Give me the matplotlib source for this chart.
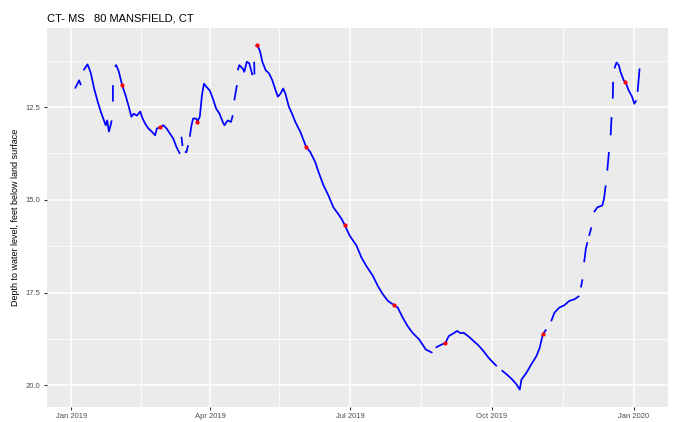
import numpy as np
import pandas as pd
import matplotlib
matplotlib.use('Agg')
import matplotlib.pyplot as plt
import matplotlib.dates as mdates

plt.rcParams['font.family'] = ['Liberation Sans', 'DejaVu Sans']

title = 'CT- MS   80 MANSFIELD, CT'
ylab = 'Depth to water level, feet below land surface'

# days since 2019-01-01 and depth (ft); nan = gap in the record
days = [2.4, 5.1, 6.2, np.nan,
        7.9, 10.5, 11.6, 12.7, 14.8, 16.9, 19.1, 21.2, 22.3, 23.3, 24.4, 25.5, 26.2, np.nan,
        27.0, 27.0, np.nan,
        28.3, 29.1, 30.8, 33.0, 35.2, 37.3, 39.0, 40.5, 42.6, 44.8, 45.8, 46.9, 48.0, 50.1,
        52.2, 54.4, 55.5, 57.6, 59.8, 61.9, 64.1, 66.2, 68.3, 70.5, np.nan,
        71.5, 72.2, np.nan,
        73.7, 74.7, 75.8, np.nan,
        76.9, 78.0, 79.0, 79.7, 81.2, 81.8, 83.4, 84.8, 86.1, 87.6, 89.8, 91.9, 94.0, 96.2,
        98.3, 99.4, 101.5, 103.7, 104.8, np.nan,
        105.8, 107.5, np.nan,
        108.0, 109.1, 111.2, 112.3, 113.9, 115.5, 117.6, np.nan,
        118.7, 118.9, np.nan,
        119.7, 120.8, 122.6, 124.0, 126.2, 128.3, 130.5, 132.6, 134.1, 135.8, 137.5, 139.0,
        141.2, 143.3, 145.4, 148.7, 152.5, 155.1, 158.3, 160.5, 163.7, 166.9, 170.1, 173.3,
        175.4, 177.4, 180.8, 185.1, 188.3, 191.5, 195.8, 199.0, 202.2, 205.5, 209.3, 211.9,
        215.1, 218.3, 221.5, 225.8, 230.1, 234.4, np.nan,
        236.5, 239.7, 242.9, 245.0, 248.3, 250.4, 252.6, 254.7, 257.9, 261.1, 264.3, 267.5,
        270.8, 274.0, 276.2, np.nan,
        279.4, 282.6, 285.8, 289.0, 291.1, 292.2, 295.4, 298.6, 301.9, 304.0, 306.1, 308.3, np.nan,
        311.5, 313.6, 316.8, 320.0, 323.3, 326.5, 329.7, np.nan,
        330.8, 331.8, np.nan,
        332.9, 334.0, 335.0, np.nan,
        336.1, 337.6, np.nan,
        339.3, 341.5, 344.7, 345.8, 346.9, np.nan,
        347.9, 349.0, np.nan,
        350.1, 350.7, np.nan,
        351.5, 351.7, np.nan,
        352.6, 353.9, 355.4, 356.5, 358.6, 359.7, 361.8, 364.0, 365.5, 366.8, np.nan,
        367.6, 368.9]
depth = [12.00, 11.78, 11.91, np.nan,
         11.51, 11.35, 11.46, 11.59, 12.00, 12.32, 12.62, 12.86, 12.99, 12.86, 13.16, 12.99, 12.86, np.nan,
         11.91, 12.35, np.nan,
         11.41, 11.37, 11.54, 11.91, 12.18, 12.49, 12.76, 12.68, 12.73, 12.62, 12.76, 12.86, 12.95, 13.08,
         13.16, 13.26, 13.08, 13.04, 12.99, 13.08, 13.22, 13.35, 13.58, 13.76, np.nan,
         13.30, 13.55, np.nan,
         13.70, 13.72, 13.53, np.nan,
         13.30, 13.00, 12.81, 12.81, 12.81, 12.90, 12.76, 12.18, 11.87, 11.95, 12.05, 12.27, 12.54, 12.68,
         12.90, 12.99, 12.86, 12.90, 12.72, np.nan,
         12.32, 11.91, np.nan,
         11.51, 11.37, 11.46, 11.55, 11.28, 11.32, 11.64, np.nan,
         11.28, 11.62, np.nan,
         10.87, 10.83, 11.01, 11.28, 11.51, 11.59, 11.78, 12.05, 12.22, 12.14, 12.00, 12.14,
         12.49, 12.68, 12.90, 13.17, 13.58, 13.71, 13.98, 14.25, 14.61, 14.88, 15.20, 15.38,
         15.51, 15.67, 15.97, 16.23, 16.55, 16.78, 17.05, 17.32, 17.54, 17.72, 17.83, 17.90,
         18.17, 18.40, 18.58, 18.76, 19.03, 19.12, np.nan,
         18.98, 18.91, 18.85, 18.67, 18.59, 18.53, 18.59, 18.58, 18.68, 18.80, 18.92, 19.07,
         19.25, 19.39, 19.48, np.nan,
         19.59, 19.70, 19.82, 19.97, 20.11, 19.84, 19.66, 19.43, 19.21, 18.99, 18.62, 18.49, np.nan,
         18.27, 18.04, 17.90, 17.84, 17.72, 17.68, 17.59, np.nan,
         17.36, 17.14, np.nan,
         16.68, 16.32, 16.14, np.nan,
         15.97, 15.74, np.nan,
         15.33, 15.20, 15.15, 14.97, 14.61, np.nan,
         14.21, 13.71, np.nan,
         13.26, 12.77, np.nan,
         12.27, 11.82, np.nan,
         11.46, 11.30, 11.37, 11.55, 11.78, 11.82, 12.05, 12.22, 12.41, 12.32, np.nan,
         12.09, 11.46]

# field measurements (red)
pt_days = [33.0, 57.6, 81.8, 120.8, 152.5, 177.4, 209.3, 242.9, 306.1, 359.7]
pt_depth = [11.91, 13.04, 12.90, 10.83, 13.58, 15.67, 17.83, 18.85, 18.62, 11.82]

start = pd.Timestamp('2019-01-01')
dates = start + pd.to_timedelta(np.array(days, dtype=float), unit='D')
pt_dates = start + pd.to_timedelta(np.array(pt_days), unit='D')

fig = plt.figure(figsize=(6.78, 4.22), dpi=100)
ax = fig.add_axes([0.069, 0.036, 0.916, 0.898])
ax.set_facecolor('#EBEBEB')

ax.plot(dates, depth, color='blue', lw=1.25, solid_capstyle='butt', zorder=3)
ax.scatter(pt_dates, pt_depth, s=9, color='red', zorder=4, linewidths=0)

# limits with ggplot-like 5% expansion
d = np.array(days, dtype=float)
d = d[~np.isnan(d)]
dr = d.max() - d.min()
ax.set_xlim(start + pd.Timedelta(days=d.min() - 0.05 * dr),
            start + pd.Timedelta(days=d.max() + 0.05 * dr))
v = np.array(depth, dtype=float)
v = v[~np.isnan(v)]
vr = v.max() - v.min()
ax.set_ylim(v.max() + 0.05 * vr, v.min() - 0.05 * vr)

xt = pd.to_datetime(['2019-01-01', '2019-04-01', '2019-07-01', '2019-10-01', '2020-01-01'])
xminor = pd.to_datetime(['2019-02-15', '2019-05-16', '2019-08-16', '2019-11-16'])
ax.set_xticks(xt)
ax.set_xticks(xminor, minor=True)
ax.xaxis.set_major_formatter(mdates.DateFormatter('%b %Y'))
ax.set_yticks([12.5, 15.0, 17.5, 20.0])
ax.set_yticks([11.25, 13.75, 16.25, 18.75], minor=True)
ax.yaxis.set_major_formatter(matplotlib.ticker.FormatStrFormatter('%.1f'))

ax.grid(which='major', color='white', lw=1.1)
ax.grid(which='minor', color='white', lw=0.55)
ax.set_axisbelow(True)
for s in ax.spines.values():
    s.set_visible(False)
ax.tick_params(which='major', length=2.5, width=0.8, color='#333333',
               labelsize=5.5, labelcolor='#4D4D4D', pad=2)
ax.tick_params(which='minor', length=0)

ax.set_ylabel(ylab, fontsize=6.5, labelpad=4)
fig.text(0.069, 0.955, title, fontsize=8, ha='left', va='center')

fig.savefig('out.png', dpi=100)
